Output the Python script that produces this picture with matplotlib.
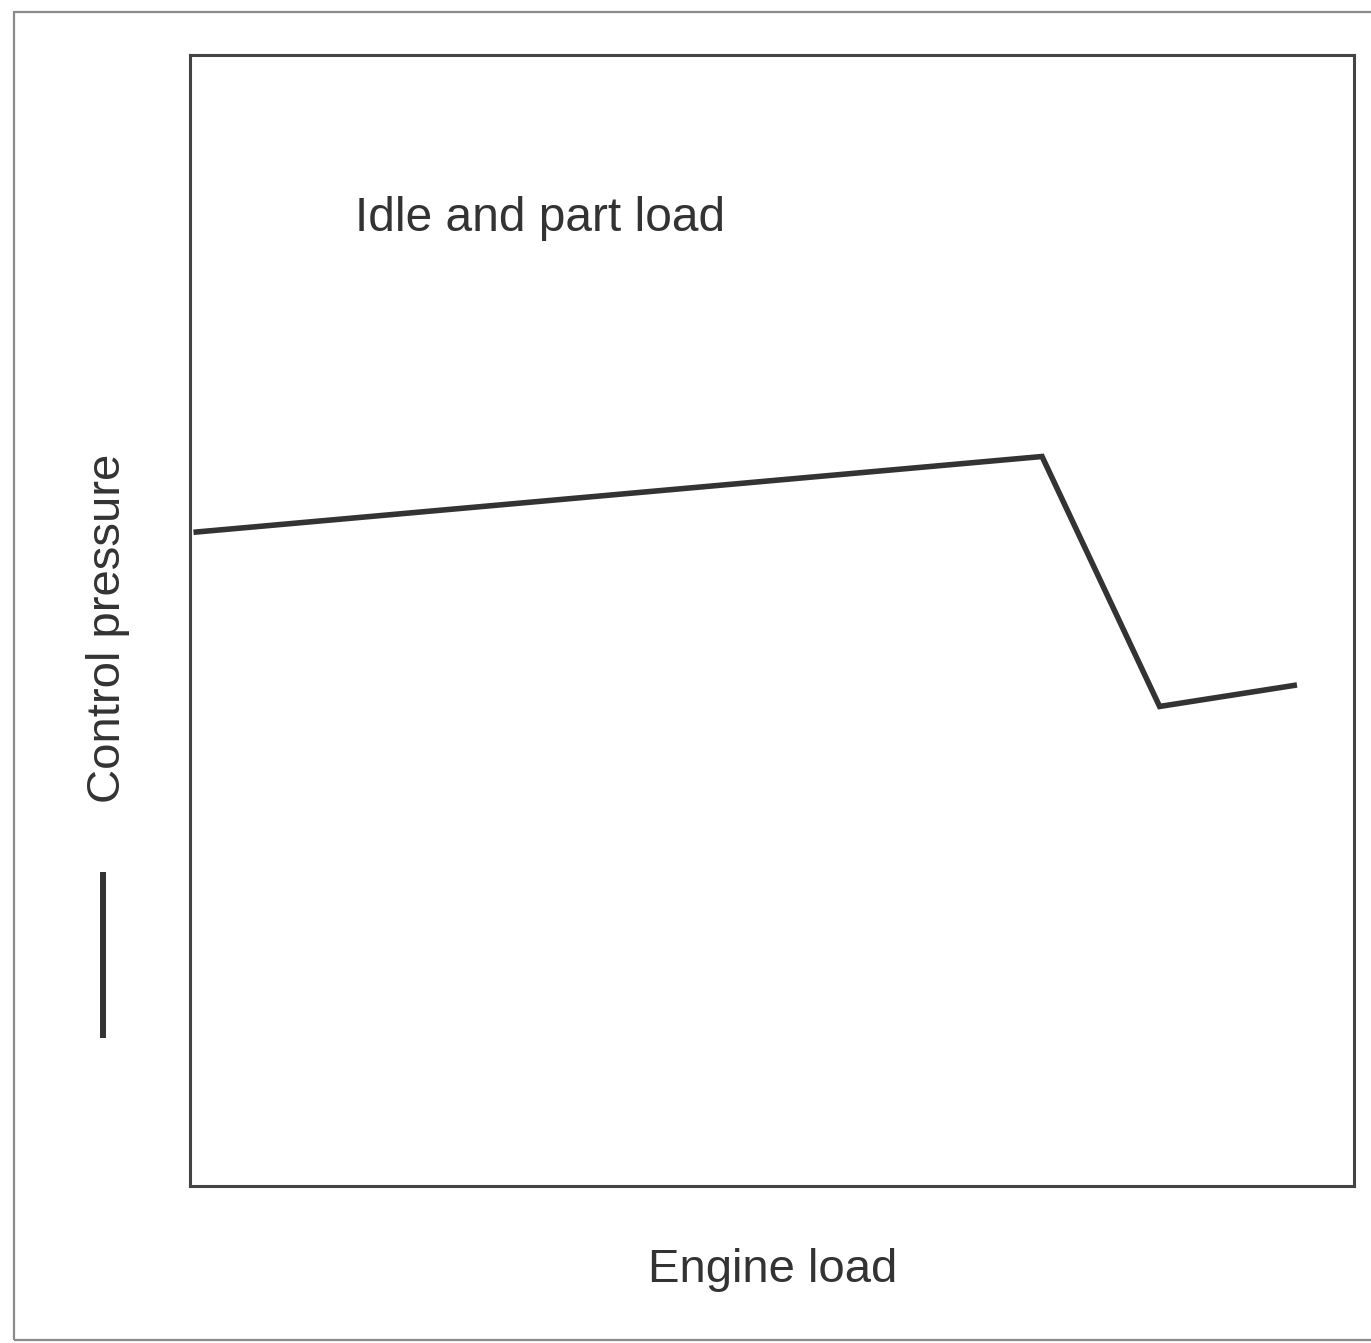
import matplotlib
matplotlib.use("Agg")
import matplotlib.pyplot as plt
from matplotlib.lines import Line2D
from matplotlib.patches import Rectangle

# Control pressure vs. engine load (relative units, 0-100)
engine_load = [0.3, 73.2, 83.3, 95.1]
control_pressure = [57.8, 64.5, 42.4, 44.3]

region_label = "Idle and part load"
x_label = "Engine load"
y_label = "Control pressure"

plt.rcParams["font.family"] = ["Liberation Sans", "DejaVu Sans"]
ink = "#333333"

W, H = 1371, 1343
fig = plt.figure(figsize=(W / 100, H / 100), dpi=100)
fig.patch.set_facecolor("white")

# Outer frame around the whole figure
fig.add_artist(Rectangle((14 / W, 3 / H), 1.05, 1 - 15 / H, transform=fig.transFigure,
                         fill=False, edgecolor="#8a8a8a", linewidth=1.6))

ax = fig.add_axes([190 / W, 1 - 1186 / H, 1164 / W, 1131 / H])
ax.set_xlim(0, 100)
ax.set_ylim(0, 100)
ax.set_xticks([])
ax.set_yticks([])
for s in ax.spines.values():
    s.set_color("#444444")
    s.set_linewidth(2.2)

ax.plot(engine_load, control_pressure, color=ink, linewidth=4.0,
        solid_joinstyle="miter", solid_capstyle="butt")

ax.text(14.2, 84.4, region_label, fontsize=34.5, color=ink, ha="left", va="baseline")

fig.text(773 / W, 1 - 1270 / H, x_label, fontsize=34, color=ink, ha="center", va="center")
fig.text(108 / W, 1 - 628 / H, y_label, fontsize=34, color=ink, ha="center", va="center",
         rotation=90)

# Line-style key below the y label
fig.add_artist(Line2D([103 / W, 103 / W], [1 - 1038 / H, 1 - 872 / H],
                      transform=fig.transFigure, color=ink, linewidth=4.3,
                      solid_capstyle="butt"))

fig.savefig("out.png", dpi=100, facecolor="white")
